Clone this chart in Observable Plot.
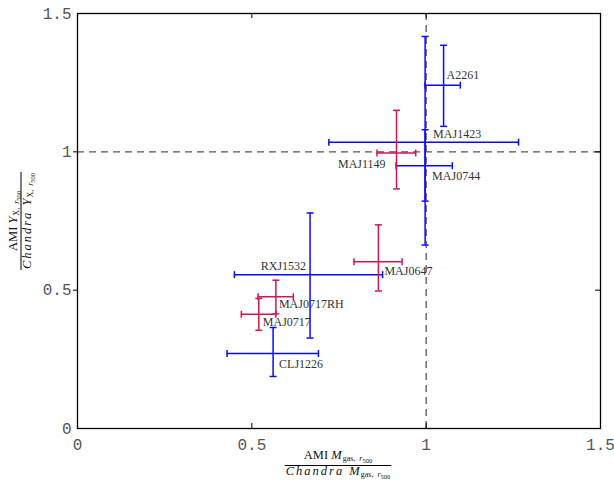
<!DOCTYPE html>
<html><head><meta charset="utf-8">
<script src="https://cdn.jsdelivr.net/npm/d3@7"></script>
<script src="https://cdn.jsdelivr.net/npm/@observablehq/plot@0.6"></script>
<style>body{margin:0;background:#fff} #chart{width:614px;height:483px}</style>
</head><body><div id="chart"></div>
<script>
// Cluster names and sample (blue / red) membership
const clusters = ["A2261","MAJ1423","MAJ0744","RXJ1532","CLJ1226","MAJ1149","MAJ0647","MAJ0717RH","MAJ0717"];
const samples  = ["blue","blue","blue","blue","blue","red","red","red","red"];
// x: AMI Mgas / Chandra Mgas (r500)
const mgasRatio = [1.050,0.997,0.997,0.667,0.561,0.915,0.863,0.569,0.520];
const mgasLow   = [0.997,0.721,0.914,0.450,0.429,0.859,0.793,0.518,0.470];
const mgasHigh  = [1.098,1.265,1.075,0.875,0.691,0.970,0.931,0.619,0.569];
// y: AMI YX / Chandra YX (r500)
const yxRatio = [1.241,1.035,0.950,0.556,0.271,0.996,0.603,0.476,0.413];
const yxLow   = [1.092,0.663,0.822,0.327,0.188,0.866,0.497,0.414,0.355];
const yxHigh  = [1.385,1.417,1.080,0.779,0.365,1.150,0.736,0.536,0.470];
const tickValues = [0, 0.5, 1, 1.5];
const refLine = [1];

const colors = {blue: "#0a0aff", red: "#d2164c"};
// label placement (pixel offsets from point, anchor)
const labelPlacement = {
  A2261: [3, -10, "start"], MAJ1423: [8, -8, "start"], MAJ0744: [7, 10, "start"],
  MAJ1149: [-11, 11, "end"], MAJ0647: [6, 9, "start"], RXJ1532: [-4, -9, "end"],
  MAJ0717RH: [3, 7, "start"], MAJ0717: [4, 8, "start"], CLJ1226: [6, 11, "start"]
};

const data = clusters.map((name, i) => ({
  name, sample: samples[i],
  x: mgasRatio[i], xlo: mgasLow[i], xhi: mgasHigh[i],
  y: yxRatio[i], ylo: yxLow[i], yhi: yxHigh[i]
}));

const hbar = {draw(ctx, size) { const r = Math.sqrt(size / Math.PI); ctx.moveTo(-r, 0); ctx.lineTo(r, 0); }};
const vbar = {draw(ctx, size) { const r = Math.sqrt(size / Math.PI); ctx.moveTo(0, -r); ctx.lineTo(0, r); }};

const errMarks = [];
for (const s of ["blue", "red"]) {
  const d = data.filter(p => p.sample === s);
  const c = colors[s];
  errMarks.push(
    Plot.ruleX(d, {x: "x", y1: "ylo", y2: "yhi", stroke: c, strokeWidth: 1.5}),
    Plot.ruleY(d, {y: "y", x1: "xlo", x2: "xhi", stroke: c, strokeWidth: 1.5}),
    Plot.dot(d, {x: "x", y: "ylo", symbol: hbar, r: 3.5, stroke: c, strokeWidth: 1.5}),
    Plot.dot(d, {x: "x", y: "yhi", symbol: hbar, r: 3.5, stroke: c, strokeWidth: 1.5}),
    Plot.dot(d, {x: "xlo", y: "y", symbol: vbar, r: 3.5, stroke: c, strokeWidth: 1.5}),
    Plot.dot(d, {x: "xhi", y: "y", symbol: vbar, r: 3.5, stroke: c, strokeWidth: 1.5})
  );
}

const labelMarks = data.map(p => {
  const [dx, dy, anchor] = labelPlacement[p.name];
  return Plot.text([p], {x: "x", y: "y", text: "name", dx, dy, textAnchor: anchor,
    fontFamily: "Liberation Serif", fontSize: 12, fill: "#333"});
});

const inner = [0.5, 1];
const plot = Plot.plot({
  width: 614, height: 483,
  marginLeft: 77, marginRight: 14, marginTop: 13, marginBottom: 55,
  x: {domain: [0, 1.5]}, y: {domain: [0, 1.5]},
  style: {background: "#fff", overflow: "visible"},
  marks: [
    Plot.ruleX(refLine, {stroke: "#555", strokeWidth: 1.3, strokeDasharray: "7,5"}),
    Plot.ruleY(refLine, {stroke: "#555", strokeWidth: 1.3, strokeDasharray: "7,5"}),
    ...errMarks,
    Plot.ruleX(inner, {y1: 0, y2: 0, insetTop: -5, stroke: "#000"}),
    Plot.ruleX(inner, {y1: 1.5, y2: 1.5, insetBottom: -5, stroke: "#000"}),
    Plot.ruleY(inner, {x1: 0, x2: 0, insetLeft: -4, stroke: "#000"}),
    Plot.ruleY(inner, {x1: 1.5, x2: 1.5, insetLeft: -5, stroke: "#000"}),
    Plot.frame({stroke: "#000", strokeWidth: 1.3}),
    Plot.axisX(tickValues, {tickSize: 0, tickPadding: 10, tickFormat: d => String(d), label: null,
      fontFamily: "Liberation Mono", fontSize: 16, fill: "#555"}),
    Plot.axisY(tickValues, {tickSize: 0, tickPadding: 6, tickFormat: d => String(d), label: null,
      fontFamily: "Liberation Mono", fontSize: 16, fill: "#555"}),
    ...labelMarks
  ]
});
document.getElementById("chart").appendChild(plot);

// Fraction-style axis titles
const svg = d3.select(plot);
function fraction(g, cx, numY, denY, lineY, num, den) {
  const t1 = g.append("text").attr("x", cx).attr("y", numY).attr("text-anchor", "middle");
  num(t1);
  const t2 = g.append("text").attr("x", cx).attr("y", denY).attr("text-anchor", "middle");
  den(t2);
  const w = Math.max(t1.node().getBBox().width, t2.node().getBBox().width) + 2;
  g.append("line").attr("x1", cx - w / 2).attr("x2", cx + w / 2).attr("y1", lineY).attr("y2", lineY)
    .attr("stroke", "#000").attr("stroke-width", 1);
}
function quantity(t, sym, sub) {
  t.append("tspan").attr("font-style", "italic").text(sym);
  t.append("tspan").attr("font-size", 8).attr("dy", 2).attr("dx", 1).text(sub + ",\u00a0\u00a0");
  t.append("tspan").attr("font-size", 8).attr("font-style", "italic").text("r");
  t.append("tspan").attr("font-size", 6.5).attr("dy", 2).text("500");
}
const fontG = svg.append("g").attr("font-family", "Liberation Serif").attr("font-size", 12.5).attr("fill", "#111");
const xg = fontG.append("g");
fraction(xg, 338, 459, 475, 465.5,
  t => { t.append("tspan").text("AMI "); quantity(t, "M", "gas"); },
  t => { t.append("tspan").attr("font-style", "italic").attr("letter-spacing", 2).text("Chandra "); quantity(t, "M", "gas"); });
const yg = fontG.append("g").attr("transform", "translate(0,221) rotate(-90)");
fraction(yg, 0, 17, 31, 21,
  t => { t.append("tspan").text("AMI "); quantity(t, "Y", "X"); },
  t => { t.append("tspan").attr("font-style", "italic").attr("letter-spacing", 2).text("Chandra "); quantity(t, "Y", "X"); });
</script>
</body></html>
